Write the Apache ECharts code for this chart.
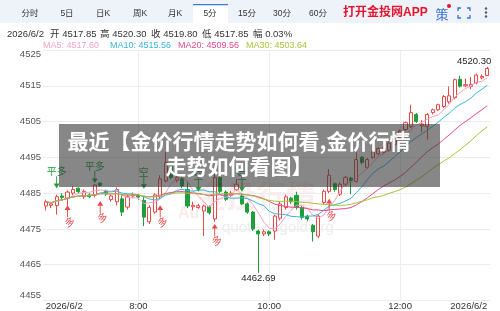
<!DOCTYPE html>
<html><head><meta charset="utf-8">
<script src="https://cdn.jsdelivr.net/npm/echarts@6/dist/echarts.min.js"></script>
<style>html,body{margin:0;padding:0;background:#fff}#c{width:500px;height:311px}</style>
</head><body><div id="c"></div>
<script>
// ---------- data ----------
const dateLabel = '2026/6/2';
const opens  = [4481.4,4481.6,4481.5,4484.2,4483.6,4485.0,4486.4,4484.0,4484.5,4484.4,4487.8,4485.6,4483.2,4482.6,4483.4,4481.1,4484.2,4484.3,4483.0,4477.0,4479.7,4484.0,4488.4,4492.5,4488.6,4489.0,4486.0,4481.2,4481.0,4480.0,4481.2,4477.8,4489.4,4485.3,4484.4,4486.0,4484.2,4482.0,4479.7,4474.4,4473.6,4474.2,4474.4,4478.0,4481.0,4483.6,4484.4,4481.0,4478.6,4476.0,4473.0,4482.4,4485.5,4487.6,4484.7,4487.5,4489.2,4488.3,4495.0,4492.2,4495.0,4496.0,4496.4,4497.0,4498.6,4500.4,4502.8,4503.6,4507.0,4503.8,4503.6,4507.5,4508.3,4509.2,4510.5,4511.7,4516.8,4515.0,4514.8,4515.8,4517.2,4517.85];
const closes = [4482.6,4482.0,4484.0,4483.8,4485.3,4486.0,4485.4,4485.5,4484.0,4487.3,4487.2,4484.8,4484.2,4486.0,4479.7,4484.0,4484.6,4483.9,4478.3,4481.0,4484.5,4489.0,4493.6,4489.4,4489.4,4487.0,4481.4,4481.6,4481.5,4481.4,4479.5,4489.4,4485.5,4483.3,4485.0,4487.5,4482.0,4479.7,4475.0,4473.6,4474.2,4473.6,4478.6,4482.0,4484.0,4482.6,4481.0,4478.2,4477.8,4474.2,4478.6,4485.5,4490.0,4486.0,4487.5,4489.4,4488.4,4494.4,4493.6,4494.4,4496.7,4497.5,4497.8,4499.0,4500.5,4502.4,4504.7,4507.5,4505.0,4504.3,4507.0,4508.3,4509.7,4512.0,4512.2,4516.7,4514.9,4515.3,4515.4,4518.0,4517.6,4519.80];
const lows   = [4480.2,4480.8,4479.0,4483.0,4480.0,4484.4,4485.0,4483.4,4483.6,4483.8,4486.8,4484.2,4482.6,4481.6,4478.6,4480.4,4483.6,4483.2,4475.8,4476.4,4479.2,4483.4,4488.0,4488.8,4488.0,4486.4,4480.8,4480.2,4480.6,4473.0,4479.0,4477.0,4485.0,4482.8,4484.0,4485.6,4481.6,4479.2,4474.4,4462.69,4473.0,4473.0,4472.0,4477.4,4480.4,4482.0,4480.4,4477.6,4477.2,4471.5,4472.4,4481.8,4485.0,4485.4,4484.2,4487.0,4484.7,4488.0,4493.0,4491.8,4494.6,4495.6,4496.0,4496.6,4498.2,4500.0,4502.4,4503.2,4504.6,4502.0,4500.0,4507.0,4508.0,4508.8,4510.0,4511.2,4514.5,4514.6,4514.0,4515.4,4516.8,4517.85];
const highs  = [4483.2,4482.6,4484.6,4485.0,4485.8,4487.0,4486.6,4486.0,4485.0,4487.6,4488.0,4486.0,4484.6,4486.6,4484.4,4484.6,4485.2,4484.8,4484.0,4481.6,4485.0,4490.0,4496.6,4493.0,4490.0,4489.6,4488.2,4482.6,4482.0,4481.8,4481.6,4491.0,4490.0,4485.8,4485.6,4489.0,4485.0,4482.4,4480.0,4474.8,4474.8,4474.6,4479.0,4482.6,4484.6,4484.0,4485.4,4481.4,4479.0,4476.4,4479.0,4486.0,4491.7,4488.0,4488.0,4489.8,4489.6,4496.4,4495.4,4494.8,4497.0,4497.8,4498.2,4499.4,4500.8,4502.8,4505.0,4509.7,4507.4,4505.4,4507.4,4508.6,4510.0,4512.4,4514.8,4517.0,4517.8,4517.0,4517.4,4518.4,4518.2,4520.30];
const tabs = ['分时','5日','日K','周K','月K','5分','15分','30分','60分'];
const selectedTab = '5分';
const infoLabels = ['开','高','收','低','幅'];
const infoValues = ['4517.85','4520.30','4519.80','4517.85','0.03%'];
const maPeriods = [5,10,20,30];
const maValues = ['4517.60','4515.56','4509.56','4503.64'];
const timeTicks = ['08:00','10:00','12:00'];
const yMin = 4455, yMax = 4525, yStep = 10;
const firstTime = '06:35';
const signals = [
  {i:2,  p:4486.4, t:'平多', dir:'down'},
  {i:9,  p:4487.8, t:'平多', dir:'down'},
  {i:18, p:4486.2, t:'空',   dir:'down'},
  {i:28, p:4485.4, t:'空',   dir:'down'},
  {i:36, p:4485.4, t:'空',   dir:'down'},
  {i:4,  p:4481.6, t:'多',   dir:'up'},
  {i:10, p:4482.8, t:'多',   dir:'up'},
  {i:21, p:4481.6, t:'多',   dir:'up'},
  {i:31, p:4476.4, t:'多',   dir:'up'},
  {i:52, p:4483.4, t:'多',   dir:'up'}
];
const overlayLines = ['最近【金价行情走势如何看,金价行情','走势如何看图】'];

// ---------- build ----------
const RED = '#eb4848', GREEN = '#1f9f3b';
const maColors = ['#f4a3c3','#37b5dc','#e8488a','#a6c43c'];
const FONT = '"Liberation Sans","Noto Sans CJK SC",sans-serif';
const CJK = '"Noto Sans CJK SC",sans-serif';

const cats = [];
(function(){
  const [h0,m0] = firstTime.split(':').map(Number);
  for (let i = 0; i < closes.length; i++) {
    const t = h0*60 + m0 + 5*i;
    cats.push(String(Math.floor(t/60)).padStart(2,'0') + ':' + String(t%60).padStart(2,'0'));
  }
})();
const last = cats.length - 1;
const candles = opens.map((o,i) => [o, closes[i], lows[i], highs[i]]);
function movingAvg(n){
  return closes.map((c,i) => {
    const s = Math.max(0, i-n+1); let sum = 0;
    for (let k = s; k <= i; k++) sum += closes[k];
    return +(sum/(i-s+1)).toFixed(2);
  });
}
const arrowDown = 'path://M3.4,0 L4.6,0 L4.6,8 L8,8 L4,13 L0,8 L3.4,8 Z';
const arrowUp   = 'path://M4,0 L8,5 L4.6,5 L4.6,13 L3.4,13 L3.4,5 L0,5 Z';

const sigPoints = signals.map(s => {
  const col = s.t === '多' ? RED : GREEN;
  return {
    coord: [cats[s.i], s.p],
    symbol: s.dir === 'down' ? arrowDown : arrowUp,
    symbolSize: [6, 12],
    symbolOffset: [0, s.dir === 'down' ? '-50%' : '50%'],
    itemStyle: {color: col},
    label: {show: true, position: s.dir === 'down' ? 'top' : 'bottom', distance: 0,
            formatter: s.t, color: col, fontSize: 10, fontFamily: CJK,
            rotate: s.t === '多' ? 25 : 0}
  };
});

const graphics = [];
// tab bar
graphics.push({type:'rect', shape:{x:0,y:0,width:500,height:23}, style:{fill:'#eef2f9'}, z:10});
const tabX = [30,67,103,140,175,210,247,282,318];
tabs.forEach((t,k) => {
  if (t === selectedTab) {
    graphics.push({type:'rect', shape:{x:tabX[k]-17,y:4,width:35,height:19}, style:{fill:'#fff'}, z:10});
    graphics.push({type:'rect', shape:{x:tabX[k]-17,y:4,width:35,height:1.2}, style:{fill:'#3d78d8'}, z:11});
  }
  graphics.push({type:'text', x:tabX[k], y:14, z:12, style:{text:t, fill:'#333', font:'8.5px '+FONT, align:'center', verticalAlign:'middle'}});
});
graphics.push({type:'text', x:343, y:13, z:12, style:{text:'打开金投网APP', fill:'#e5142c', font:'bold 12px '+FONT, verticalAlign:'middle'}});
graphics.push({type:'text', x:442, y:14, z:12, style:{text:'策', fill:'#3b6fd6', font:'13px '+CJK, align:'center', verticalAlign:'middle'}});
graphics.push({type:'circle', shape:{cx:449,cy:6,r:2}, style:{fill:'#e5142c'}, z:12});
[[458,11,458,8,461,8],[467,8,470,8,470,11],[458,15,458,18,461,18],[467,18,470,18,470,15]].forEach(p => {
  graphics.push({type:'polyline', shape:{points:[[p[0],p[1]],[p[2],p[3]],[p[4],p[5]]]}, style:{stroke:'#3b6fd6', lineWidth:1.3, fill:null}, z:12});
});
[8.5,12.5,16.5].forEach(yy => graphics.push({type:'circle', shape:{cx:486,cy:yy,r:1.2}, style:{fill:'#4a5a80'}, z:12}));
// info line
graphics.push({type:'text', x:7, y:34, z:12, style:{text:dateLabel, fill:'#333', font:'9.5px '+FONT, verticalAlign:'middle'}});
const infoX = [50,100,151,202,253];
infoLabels.forEach((l,k) => {
  graphics.push({type:'text', x:infoX[k], y:34, z:12, style:{text:l + ' ' + infoValues[k], fill:'#333', font:'9.5px '+FONT, verticalAlign:'middle'}});
});
// MA legend
const maX = [43,110,178,246];
maPeriods.forEach((p,k) => {
  graphics.push({type:'text', x:maX[k], y:45.5, z:12, style:{text:'MA'+p+': '+maValues[k], fill:maColors[k], font:'9px '+FONT, verticalAlign:'middle'}});
});
// watermark
graphics.push({type:'text', x:196, y:196, z:-1, style:{text:'金投行情', fill:'rgba(235,150,150,0.16)', font:'bold 30px '+CJK, verticalAlign:'middle'}});
graphics.push({type:'text', x:178, y:214, z:-1, style:{text:'Au', fill:'rgba(235,150,150,0.2)', font:'bold 16px '+FONT, verticalAlign:'middle'}});
graphics.push({type:'text', x:222, y:228, z:-1, style:{text:'quote.cngold.org', fill:'rgba(200,200,210,0.35)', font:'15px '+FONT, verticalAlign:'middle'}});
// overlay
graphics.push({type:'rect', shape:{x:59,y:124,width:381,height:63}, style:{fill:'rgba(55,55,55,0.6)'}, z:100});
graphics.push({type:'text', x:239, y:141, z:101, style:{text:overlayLines[0], fill:'#fff', font:'bold 21px '+CJK, align:'center', verticalAlign:'middle'}});
graphics.push({type:'text', x:239, y:166, z:101, style:{text:overlayLines[1], fill:'#fff', font:'bold 21px '+CJK, align:'center', verticalAlign:'middle'}});

const series = [{
  type: 'candlestick',
  data: candles,
  barWidth: '66%',
  itemStyle: {color:'#ffffff', color0:GREEN, borderColor:RED, borderColor0:GREEN, borderWidth:1},
  markPoint: {
    animation: false,
    data: [
      {type:'max', valueDim:'highest', symbol:'circle', symbolSize:0,
       label:{show:true, position:'top', distance:1, align:'right', offset:[4,0], color:'#222', fontSize:9.5, fontFamily:FONT,
              formatter: p => Number(p.value).toFixed(2)}},
      {type:'min', valueDim:'lowest', symbol:'circle', symbolSize:0,
       label:{show:true, position:'bottom', distance:1, color:'#222', fontSize:9.5, fontFamily:FONT,
              formatter: p => Number(p.value).toFixed(2)}}
    ].concat(sigPoints)
  }
}];
maPeriods.forEach((p,k) => {
  series.push({type:'line', name:'MA'+p, data: movingAvg(p), showSymbol:false, symbol:'none',
    lineStyle:{width:1, color:maColors[k]}, itemStyle:{color:maColors[k]}, z:3});
});

const chart = echarts.init(document.getElementById('c'), null, {renderer:'canvas'});
chart.setOption({
  animation: false,
  backgroundColor: '#fff',
  grid: {left:43, right:10, top:50, bottom:9},
  xAxis: {
    type:'category', data:cats, boundaryGap:true,
    axisLine:{show:false}, axisTick:{show:false},
    axisLabel:{
      interval:(idx,val) => idx === 0 || idx === last || timeTicks.includes(val),
      formatter:(val,idx) => (idx === 0 || idx === last) ? dateLabel : val.replace(/^0/,''),
      fontSize:9.5, color:'#333', margin:1, fontFamily:FONT,
      alignMinLabel:'left', alignMaxLabel:'right', hideOverlap:false
    },
    splitLine:{show:true, alignWithLabel:true, interval:(idx,val) => timeTicks.includes(val), lineStyle:{color:'#ececec'}}
  },
  yAxis: {
    type:'value', min:yMin, max:yMax, interval:yStep, scale:true,
    axisLine:{show:false}, axisTick:{show:false},
    axisLabel:{fontSize:9.5, color:'#555', margin:2, fontFamily:FONT,
               formatter: v => String(v),
               verticalAlignMinLabel:'bottom', verticalAlignMaxLabel:'top'},
    splitLine:{lineStyle:{color:'#ececec'}}
  },
  graphic: graphics,
  series: series
});
</script>
</body></html>
